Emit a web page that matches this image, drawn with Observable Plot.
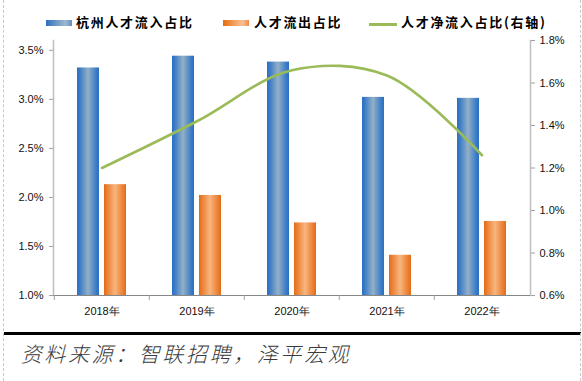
<!DOCTYPE html>
<html><head><meta charset="utf-8">
<script src="https://cdn.jsdelivr.net/npm/d3@7"></script>
<script src="https://cdn.jsdelivr.net/npm/@observablehq/plot@0.6"></script>
<style>
body{margin:0;background:#fff;}
#wrap{position:relative;width:582px;height:381px;overflow:hidden;background:#fff;font-family:"Liberation Sans",sans-serif;}
#chart{position:absolute;left:0;top:0;}
.lg{position:absolute;font-family:"Noto Sans CJK SC",sans-serif;font-weight:bold;font-size:13px;letter-spacing:1.7px;line-height:16px;color:#000;white-space:nowrap;}
.sw{position:absolute;height:6px;width:26px;}
.rule{position:absolute;left:4px;right:1px;top:332px;height:3px;background:#000;}
.src{position:absolute;left:20px;top:341px;font-family:"Noto Sans CJK SC",sans-serif;font-weight:300;font-size:21px;line-height:24px;letter-spacing:2.6px;color:#3a3a3a;white-space:nowrap;transform:skewX(-14deg);transform-origin:0 100%;}
.bl{position:absolute;top:0;bottom:0;width:0;border-left:1px dashed #c8c8c8;}
</style></head><body>
<div id="wrap">
  <div id="chart"></div>
  <div class="sw" style="left:46px;top:20px;background:linear-gradient(90deg,#2c6fbf,#6f97c4 40%,#9fb9cf 75%,#5f8ec6);"></div>
  <div class="lg" style="left:76px;top:14px;">杭州人才流入占比</div>
  <div class="sw" style="left:223px;top:20px;background:linear-gradient(90deg,#e46c0a,#f39a5c 40%,#f9c096 75%,#ef8a44);"></div>
  <div class="lg" style="left:254px;top:14px;">人才流出占比</div>
  <div class="sw" style="left:369px;top:23px;height:3px;width:28px;background:#9bbb59;"></div>
  <div class="lg" style="left:401px;top:14px;">人才净流入占比(右轴)</div>
  <div class="rule"></div>
  <div class="src">资料来源：智联招聘，泽平宏观</div>
  <div class="bl" style="left:3px;"></div>
  <div class="bl" style="left:580px;"></div>
</div>
<script>
const years = ["2018年", "2019年", "2020年", "2021年", "2022年"];
const inflow = [3.32, 3.44, 3.38, 3.02, 3.01];
const outflow = [2.13, 2.02, 1.74, 1.41, 1.755];
const netInflow = [1.20, 1.42, 1.66, 1.635, 1.26];
const leftTicks = [1.0, 1.5, 2.0, 2.5, 3.0, 3.5];
const rightTicks = [0.6, 0.8, 1.0, 1.2, 1.4, 1.6, 1.8];
const leftDomain = [1.0, 3.6];
const rightDomain = [0.6, 1.8];

const toLeft = r => leftDomain[0] + (r - rightDomain[0]) * (leftDomain[1] - leftDomain[0]) / (rightDomain[1] - rightDomain[0]);
const toRight = l => rightDomain[0] + (l - leftDomain[0]) * (rightDomain[1] - rightDomain[0]) / (leftDomain[1] - leftDomain[0]);

const data = years.map((y, i) => ({year: y, inflow: inflow[i], outflow: outflow[i], net: netInflow[i]}));

const W = 582, H = 330, mL = 53, mR = 52, mT = 40, mB = 35;
const step = (W - mL - mR) / years.length;

const chart = Plot.plot({
  width: W, height: H,
  marginLeft: mL, marginRight: mR, marginTop: mT, marginBottom: mB,
  style: {fontFamily: "Liberation Sans, sans-serif", fontSize: "11px", color: "#111", background: "transparent"},
  x: {domain: years, padding: 0, axis: null, label: null},
  y: {domain: leftDomain, axis: null, label: null},
  marks: [
    Plot.barY(data, {x: "year", y1: leftDomain[0], y2: "inflow", fill: "url(#gBlue)", insetLeft: 23, insetRight: 50}),
    Plot.barY(data, {x: "year", y1: leftDomain[0], y2: "outflow", fill: "url(#gOrange)", insetLeft: 50, insetRight: 23}),
    Plot.line(data, {x: "year", y: d => toLeft(d.net), curve: "catmull-rom", stroke: "#9bbb59", strokeWidth: 2.6}),
    Plot.frame({anchor: "left", stroke: "#bfbfbf", strokeWidth: 1.5}),
    Plot.frame({anchor: "right", stroke: "#bfbfbf", strokeWidth: 1.5}),
    Plot.ruleY([leftDomain[0]], {stroke: "#868686", strokeWidth: 1.2}),
    Plot.axisY({ticks: leftTicks, anchor: "left", label: null, tickSize: 4, tickPadding: 6, stroke: "#a0a0a0", tickFormat: d => d.toFixed(1) + "%"}),
    Plot.axisY({ticks: rightTicks.map(toLeft), anchor: "right", label: null, tickSize: 4, tickPadding: 5, stroke: "#a0a0a0", tickFormat: d => toRight(d).toFixed(1) + "%"}),
    Plot.axisX({anchor: "bottom", label: null, tickSize: 5, tickFormat: () => "", dx: -step / 2, stroke: "#a0a0a0"}),
    Plot.axisX({anchor: "bottom", label: null, tickSize: 0, tickPadding: 12})
  ]
});

const svg = d3.select(chart);
const defs = svg.insert("defs", ":first-child");
const gb = defs.append("linearGradient").attr("id", "gBlue").attr("x1", "0%").attr("x2", "100%").attr("y1", "0%").attr("y2", "0%");
[["0%", "#2a6fc4"], ["12%", "#3a7bc6"], ["50%", "#93b0c8"], ["88%", "#3a7bc6"], ["100%", "#2a6fc4"]]
  .forEach(([o, c]) => gb.append("stop").attr("offset", o).attr("stop-color", c));
const go = defs.append("linearGradient").attr("id", "gOrange").attr("x1", "0%").attr("x2", "100%").attr("y1", "0%").attr("y2", "0%");
[["0%", "#e26b14"], ["12%", "#ea7d30"], ["50%", "#f8b57e"], ["88%", "#ea7d30"], ["100%", "#e26b14"]]
  .forEach(([o, c]) => go.append("stop").attr("offset", o).attr("stop-color", c));

document.getElementById("chart").appendChild(chart);
</script>
</body></html>
